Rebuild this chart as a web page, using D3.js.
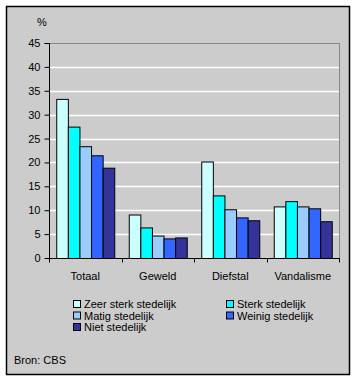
<!DOCTYPE html>
<html><head><meta charset="utf-8">
<script src="https://cdn.jsdelivr.net/npm/d3@7"></script>
<style>body{margin:0;background:#fff}svg{display:block}text{font-family:Arial,"Liberation Sans",sans-serif;font-size:11px;fill:#000}</style>
</head><body>
<script>
const categories = ["Totaal","Geweld","Diefstal","Vandalisme"];
const seriesNames = ["Zeer sterk stedelijk","Sterk stedelijk","Matig stedelijk","Weinig stedelijk","Niet stedelijk"];
const colors = ["#CCFFFF","#00FFFF","#99CCFF","#3366FF","#333399"];
const zeerSterk = [33.3, 9.1, 20.2, 10.8];
const sterk     = [27.5, 6.4, 13.1, 11.9];
const matig     = [23.4, 4.7, 10.2, 10.8];
const weinig    = [21.5, 4.1, 8.5, 10.4];
const niet      = [18.9, 4.3, 7.9, 7.7];
const series = [zeerSterk, sterk, matig, weinig, niet];
const yTicks = [0,5,10,15,20,25,30,35,40,45];

(function(){
const W=356,H=381;
const svg=d3.select("body").append("svg").attr("width",W).attr("height",H);
svg.append("rect").attr("x",6.5).attr("y",6.5).attr("width",343).attr("height",368).attr("fill","#CCCCCC").attr("stroke","#000").attr("stroke-width",1.5);

const pL=49,pR=339,pT=43,pB=258;
const x=d3.scaleBand().domain(categories).range([pL,pR]).paddingInner(0.2).paddingOuter(0.1);
const x0=d3.scaleBand().domain(categories).range([pL,pR]);
const y=d3.scaleLinear().domain([0,45]).range([pB,pT]);
const xs=d3.scaleBand().domain(d3.range(5)).range([0,x.bandwidth()]);

svg.append("g").selectAll("line").data(yTicks.filter(t=>t>0&&t<45)).join("line")
 .attr("x1",pL).attr("x2",pR).attr("y1",d=>Math.round(y(d))+0.5).attr("y2",d=>Math.round(y(d))+0.5)
 .attr("stroke","#fff").attr("stroke-width",1.5);
svg.append("path").attr("d",`M${pL},${pT+0.5}H${pR+0.5}V${pB}`).attr("fill","none").attr("stroke","#888").attr("stroke-width",1);

const g=svg.append("g");
series.forEach((s,i)=>{
  g.selectAll(null).data(s).join("rect")
   .attr("x",(d,j)=>x(categories[j])+xs(i)+0.5)
   .attr("y",d=>y(d)+0.5)
   .attr("width",xs.bandwidth())
   .attr("height",d=>pB-y(d))
   .attr("fill",colors[i]).attr("stroke","#000").attr("stroke-width",1);
});

const ya=svg.append("g").attr("transform",`translate(${pL+0.5},0)`)
 .call(d3.axisLeft(y).tickValues(yTicks).tickSize(5).tickPadding(4));
ya.selectAll("text").style("font-size","11px").style("font-family","Arial,'Liberation Sans',sans-serif");
ya.select(".domain").attr("stroke","#000").attr("d",`M-5,${pT+0.5}H0V${pB}`);

const xa=svg.append("g").attr("transform",`translate(0,${pB+0.5})`);
xa.append("line").attr("x1",pL).attr("x2",pR+1).attr("stroke","#000");
xa.selectAll("line.t").data(categories.concat(["end"])).join("line").attr("class","t")
 .attr("x1",(d,i)=>Math.round(i<4?x0(d):pR)+0.5).attr("x2",(d,i)=>Math.round(i<4?x0(d):pR)+0.5)
 .attr("y1",0).attr("y2",4).attr("stroke","#000");
xa.selectAll("text").data(categories).join("text")
 .attr("x",d=>x0(d)+x0.bandwidth()/2).attr("y",21).attr("text-anchor","middle").text(d=>d);

svg.append("text").attr("x",37).attr("y",26).text("%");

const legPos=[[73,307],[226,307],[73,318.5],[226,318.5],[73,330]];
const lg=svg.append("g");
seriesNames.forEach((n,i)=>{
  const [lx,ly]=legPos[i];
  lg.append("rect").attr("x",lx+0.5).attr("y",ly-6.5).attr("width",7).attr("height",7).attr("fill",colors[i]).attr("stroke","#000");
  lg.append("text").attr("x",lx+11).attr("y",ly+1).text(n);
});
svg.append("text").attr("x",14).attr("y",364).text("Bron: CBS");
})();
</script>
</body></html>
